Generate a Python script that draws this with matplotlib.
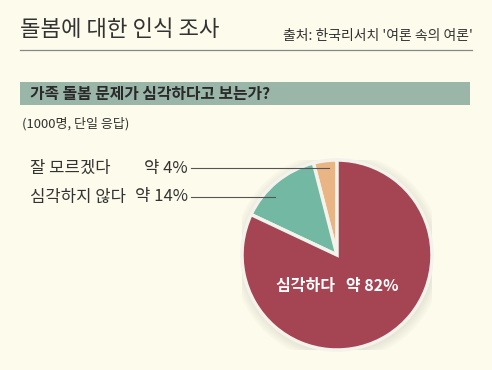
import matplotlib.pyplot as plt
import numpy as np

plt.rcParams['font.family'] = ['Noto Sans CJK KR', 'DejaVu Sans']

labels = ['잘 모르겠다', '심각하지 않다', '심각하다']
values = [4, 14, 82]
pct_text = ['약 4%', '약 14%', '약 82%']
colors = ['#e9b585', '#72b8a2', '#a54452']

bg = '#fdfbeb'
W, H = 492, 370

fig = plt.figure(figsize=(W / 100, H / 100), dpi=100, facecolor=bg)

# overlay axes in pixel coordinates (y down), drawn above the pie
ov = fig.add_axes([0, 0, 1, 1])
ov.set_xlim(0, W)
ov.set_ylim(H, 0)
ov.axis('off')
ov.set_zorder(3)

ov.text(20, 30, '돌봄에 대한 인식 조사', fontsize=16, color='#333333', va='center', ha='left')
ov.text(473, 36, "출처: 한국리서치 '여론 속의 여론'", fontsize=10, color='#333333', va='center', ha='right')
ov.plot([20, 472], [50, 50], color='#888888', lw=0.9)

ov.add_patch(plt.Rectangle((20, 82), 450, 23, color='#99b6a9', lw=0))
ov.text(30, 93.5, '가족 돌봄 문제가 심각하다고 보는가?', fontsize=11.4, fontweight='bold',
        color='#2a2a2a', va='center', ha='left')
ov.text(22, 124, '(1000명, 단일 응답)', fontsize=9.4, color='#333333', va='center', ha='left')

# pie
cx, cy, r = 337, 255, 95
pa = fig.add_axes([(cx - r) / W, (H - cy - r) / H, 2 * r / W, 2 * r / H])
pa.set_aspect('equal')
pa.axis('off')
# soft shadow
for k in range(6):
    pa.add_patch(plt.Circle((0.01, -0.02), 1.0 + 0.02 * k, color='#b8b6a8', alpha=0.06, lw=0))
wedges, _ = pa.pie(values, colors=colors, startangle=90, counterclock=True, radius=1.0,
                   wedgeprops=dict(edgecolor='#f3f3ec', linewidth=2.5))
pa.set_xlim(-1.0, 1.0)
pa.set_ylim(-1.0, 1.0)

pa.text(0.0, -0.33, labels[2] + '   ' + pct_text[2], color='white', fontsize=11.5,
        fontweight='bold', ha='center', va='center')

# outside labels with leader lines
label_y = [168, 197]
ends = [0.92, 0.89]
for i in range(2):
    y = label_y[i]
    ov.text(30, y, labels[i], fontsize=12, color='#333333', va='center', ha='left')
    ov.text(188, y, pct_text[i], fontsize=12, color='#333333', va='center', ha='right')
    yy = (cy - y) / r
    xx = -np.sqrt(max(ends[i] ** 2 - yy ** 2, 0))
    ov.plot([191, cx + xx * r], [y, y], color='#555555', lw=0.8)

fig.savefig('out.png', dpi=100, facecolor=bg)
